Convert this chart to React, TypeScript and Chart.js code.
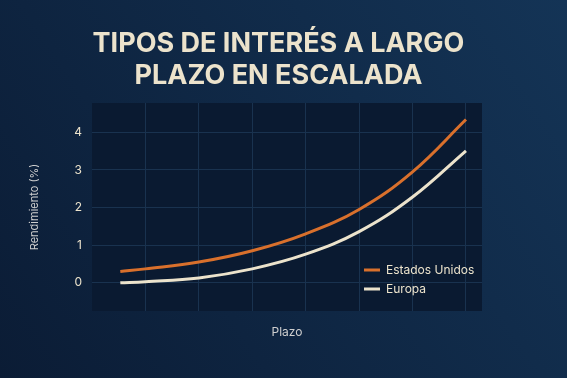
import React, { useEffect, useRef } from "react";
import { Chart, registerables } from "chart.js";

Chart.register(...registerables);

const titleLines = ["TIPOS DE INTERÉS A LARGO", "PLAZO EN ESCALADA"];
const plazo = [0.53, 1, 2, 3, 4, 5, 6, 7];
const estadosUnidos = [0.3, 0.37, 0.55, 0.85, 1.3, 1.95, 2.95, 4.34];
const europa = [0.0, 0.03, 0.13, 0.37, 0.76, 1.36, 2.28, 3.51];
const yTicks = [0, 1, 2, 3, 4];
const seriesNames = ["Estados Unidos", "Europa"];

const CREAM = "#ece3cc";
const ORANGE = "#d9702c";

const bgPlugin = {
  id: "bgPlugin",
  beforeDraw(chart: any) {
    const { ctx, width, height, chartArea } = chart;
    ctx.save();
    const g = ctx.createLinearGradient(0, height, width, 0);
    g.addColorStop(0, "#0b1c35");
    g.addColorStop(1, "#143456");
    ctx.fillStyle = g;
    ctx.fillRect(0, 0, width, height);
    ctx.fillStyle = "#0a1a31";
    ctx.fillRect(chartArea.left, chartArea.top, chartArea.right - chartArea.left, chartArea.bottom - chartArea.top);
    ctx.restore();
  },
  afterDraw(chart: any) {
    const { ctx, width } = chart;
    ctx.save();
    ctx.fillStyle = CREAM;
    ctx.font = "bold 27px Inter, 'DejaVu Sans', sans-serif";
    ctx.textAlign = "center";
    ctx.textBaseline = "middle";
    titleLines.forEach((t, i) => ctx.fillText(t, width / 2 - 5, 44 + i * 32));
    // legend
    const ds = chart.data.datasets;
    ctx.font = "12px Inter, 'DejaVu Sans', sans-serif";
    ctx.textAlign = "left";
    ds.forEach((d: any, i: number) => {
      const y = 270 + i * 19;
      ctx.strokeStyle = d.borderColor;
      ctx.lineWidth = 3;
      ctx.beginPath();
      ctx.moveTo(364, y);
      ctx.lineTo(380, y);
      ctx.stroke();
      ctx.fillStyle = CREAM;
      ctx.fillText(d.label, 386, y);
    });
    ctx.restore();
  },
};

export default function App() {
  const ref = useRef<HTMLCanvasElement>(null);
  useEffect(() => {
    document.body.style.margin = "0";
    const chart = new Chart(ref.current!, {
      type: "line",
      data: {
        datasets: [
          {
            label: seriesNames[0],
            data: plazo.map((x, i) => ({ x, y: estadosUnidos[i] })),
            borderColor: ORANGE,
            borderWidth: 3,
            pointRadius: 0,
            tension: 0.4,
          },
          {
            label: seriesNames[1],
            data: plazo.map((x, i) => ({ x, y: europa[i] })),
            borderColor: CREAM,
            borderWidth: 3,
            pointRadius: 0,
            tension: 0.4,
          },
        ],
      },
      options: {
        animation: false,
        responsive: false,
        layout: { padding: { top: 103, right: 85, left: 0, bottom: 0 } },
        plugins: { legend: { display: false }, tooltip: { enabled: false }, title: { display: false } },
        scales: {
          x: {
            type: "linear",
            min: 0,
            max: 7.3,
            afterFit: (s: any) => { s.height = 67; },
            afterBuildTicks: (s: any) => { s.ticks = [1, 2, 3, 4, 5, 6, 7].map((v) => ({ value: v })); },
            ticks: { display: false },
            grid: { color: "#19324f", lineWidth: 1, drawTicks: false },
            border: { display: false },
            title: { display: true, text: "Plazo", color: "#cfcfcf", font: { size: 12, family: "Inter, sans-serif" }, padding: { bottom: 38, top: 0 } },
          },
          y: {
            min: -0.75,
            max: 4.78,
            afterFit: (s: any) => { s.width = 92; },
            afterBuildTicks: (s: any) => { s.ticks = yTicks.map((v) => ({ value: v })); },
            ticks: { color: CREAM, padding: 10, font: { size: 12, family: "Inter, sans-serif" } },
            grid: { color: "#19324f", lineWidth: 1, drawTicks: false },
            border: { display: false },
            title: { display: true, text: "Rendimiento (%)", color: "#cfcfcf", font: { size: 11, family: "Inter, sans-serif" }, padding: { top: 28, bottom: 0 } },
          },
        },
      },
      plugins: [bgPlugin],
    } as any);
    return () => chart.destroy();
  }, []);
  return (
    <div style={{ position: "fixed", left: 0, top: 0, width: 567, height: 378 }}>
      <canvas ref={ref} width={567} height={378} style={{ display: "block" }} />
    </div>
  );
}
